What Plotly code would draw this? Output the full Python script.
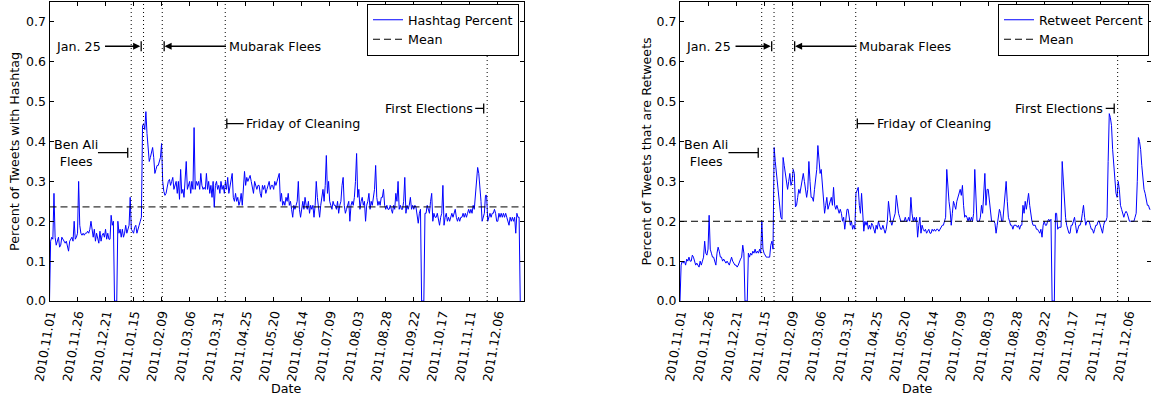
import pandas as pd
import plotly.graph_objects as go

# ---------------- data ----------------
start_date = "2010-11-01"

hashtag_percent = [
    0.0, 0.15, 0.16, 0.155, 0.27, 0.16, 0.14, 0.15, 0.16, 0.135,
    0.14, 0.16, 0.155, 0.15, 0.145, 0.15, 0.14, 0.125, 0.15, 0.155,
    0.16, 0.15, 0.2, 0.155, 0.16, 0.17, 0.30, 0.19, 0.17, 0.165,
    0.17, 0.165, 0.17, 0.17, 0.175, 0.17, 0.18, 0.2, 0.175, 0.16,
    0.18, 0.15, 0.17, 0.16, 0.145, 0.175, 0.15, 0.165, 0.17, 0.16,
    0.18, 0.155, 0.17, 0.155, 0.155, 0.215, 0.19, 0.2, 0.0, 0.0,
    0.0, 0.2, 0.17, 0.18, 0.16, 0.18, 0.16, 0.17, 0.19, 0.17,
    0.18, 0.19, 0.26, 0.18, 0.175, 0.17, 0.185, 0.19, 0.17, 0.185,
    0.19, 0.2, 0.21, 0.44, 0.445, 0.43, 0.475, 0.42, 0.38, 0.35,
    0.36, 0.37, 0.385, 0.36, 0.32, 0.33, 0.34, 0.34, 0.35, 0.36,
    0.395, 0.3, 0.275, 0.265, 0.27, 0.29, 0.3, 0.305, 0.29, 0.3,
    0.31, 0.28, 0.29, 0.3, 0.27, 0.3, 0.255, 0.33, 0.27, 0.28,
    0.26, 0.3, 0.35, 0.28, 0.29, 0.3, 0.27, 0.3, 0.28, 0.435,
    0.28, 0.3, 0.29, 0.3, 0.28, 0.32, 0.29, 0.28, 0.285, 0.28,
    0.32, 0.28, 0.3, 0.27, 0.29, 0.26, 0.3, 0.235, 0.29, 0.3,
    0.28, 0.29, 0.27, 0.3, 0.28, 0.29, 0.27, 0.3, 0.28, 0.31,
    0.27, 0.29, 0.3, 0.32, 0.26, 0.25, 0.27, 0.25, 0.26, 0.24,
    0.25, 0.27, 0.24, 0.28, 0.325, 0.29, 0.31, 0.3, 0.31, 0.315,
    0.3, 0.28, 0.27, 0.3, 0.29, 0.28, 0.29, 0.29, 0.27, 0.26,
    0.29, 0.28, 0.29, 0.27, 0.28, 0.29, 0.3, 0.28, 0.29, 0.29,
    0.28, 0.3, 0.29, 0.3, 0.31, 0.32, 0.25, 0.27, 0.24, 0.25,
    0.24, 0.26, 0.25, 0.27, 0.24, 0.25, 0.23, 0.21, 0.24, 0.23,
    0.24, 0.25, 0.30, 0.23, 0.21, 0.24, 0.25, 0.23, 0.26, 0.24,
    0.23, 0.25, 0.22, 0.24, 0.23, 0.24, 0.21, 0.24, 0.30, 0.26,
    0.23, 0.21, 0.24, 0.26, 0.28, 0.25, 0.29, 0.365, 0.27, 0.3,
    0.25, 0.24, 0.23, 0.25, 0.24, 0.24, 0.23, 0.25, 0.22, 0.24,
    0.25, 0.29, 0.31, 0.24, 0.22, 0.23, 0.24, 0.25, 0.2, 0.24,
    0.25, 0.24, 0.26, 0.30, 0.37, 0.26, 0.28, 0.23, 0.25, 0.26,
    0.24, 0.25, 0.2, 0.24, 0.25, 0.27, 0.23, 0.25, 0.24, 0.26,
    0.28, 0.34, 0.26, 0.24, 0.25, 0.24, 0.26, 0.26, 0.28, 0.24,
    0.23, 0.24, 0.23, 0.23, 0.24, 0.23, 0.22, 0.24, 0.23, 0.27,
    0.25, 0.3, 0.23, 0.24, 0.23, 0.23, 0.25, 0.31, 0.22, 0.24,
    0.23, 0.24, 0.26, 0.23, 0.24, 0.23, 0.24, 0.235, 0.22, 0.195,
    0.22, 0.23, 0.0, 0.0, 0.0, 0.22, 0.22, 0.24, 0.23, 0.22,
    0.25, 0.27, 0.2, 0.22, 0.21, 0.21, 0.22, 0.2, 0.19, 0.21,
    0.22, 0.29, 0.19, 0.21, 0.22, 0.2, 0.21, 0.2, 0.21, 0.22,
    0.21, 0.22, 0.23, 0.21, 0.2, 0.21, 0.2, 0.21, 0.21, 0.22,
    0.21, 0.22, 0.21, 0.22, 0.23, 0.22, 0.23, 0.22, 0.24, 0.23,
    0.26, 0.30, 0.335, 0.32, 0.29, 0.25, 0.2, 0.21, 0.22, 0.265,
    0.265, 0.2, 0.21, 0.22, 0.21, 0.22, 0.22, 0.23, 0.22, 0.2,
    0.2, 0.22, 0.21, 0.22, 0.21, 0.22, 0.21, 0.22, 0.21, 0.2,
    0.19, 0.21, 0.2, 0.21, 0.2, 0.21, 0.17, 0.22, 0.21, 0.21, 0.0,
]

retweet_percent = [
    0.0, 0.09, 0.1, 0.095, 0.1, 0.09, 0.105, 0.1, 0.11, 0.1,
    0.1, 0.115, 0.11, 0.1, 0.09, 0.095, 0.09, 0.085, 0.1, 0.09,
    0.1, 0.11, 0.15, 0.12, 0.115, 0.13, 0.215, 0.13, 0.12, 0.11,
    0.11, 0.1, 0.09, 0.12, 0.135, 0.125, 0.11, 0.11, 0.1, 0.105,
    0.1, 0.095, 0.1, 0.095, 0.09, 0.1, 0.11, 0.1, 0.095, 0.09,
    0.09, 0.085, 0.09, 0.1, 0.105, 0.11, 0.14, 0.12, 0.0, 0.0,
    0.0, 0.12, 0.11, 0.12, 0.115, 0.125, 0.12, 0.13, 0.12, 0.125,
    0.12, 0.13, 0.12, 0.2, 0.13, 0.12, 0.115, 0.11, 0.11, 0.11,
    0.11, 0.14, 0.15, 0.13, 0.385, 0.35, 0.32, 0.28, 0.25, 0.22,
    0.21, 0.205, 0.36, 0.34, 0.32, 0.3, 0.28, 0.3, 0.32, 0.29,
    0.3, 0.33, 0.32, 0.236, 0.24, 0.26, 0.28, 0.27, 0.29, 0.3,
    0.32, 0.3, 0.28, 0.26, 0.28, 0.35, 0.3, 0.26, 0.26, 0.25,
    0.28, 0.3, 0.33, 0.39, 0.36, 0.32, 0.33, 0.3, 0.27, 0.22,
    0.24, 0.26, 0.23, 0.24, 0.25, 0.26, 0.24, 0.285, 0.24, 0.23,
    0.24, 0.23, 0.22, 0.23, 0.22, 0.2, 0.21, 0.18, 0.2, 0.23,
    0.23, 0.2, 0.19, 0.2, 0.18, 0.19, 0.18, 0.27, 0.28, 0.285,
    0.24, 0.22, 0.27, 0.23, 0.175, 0.2, 0.19, 0.2, 0.18, 0.19,
    0.18, 0.195, 0.19, 0.18, 0.17, 0.19, 0.18, 0.2, 0.19, 0.18,
    0.18, 0.19, 0.18, 0.17, 0.18, 0.2, 0.25, 0.22, 0.2, 0.19,
    0.2, 0.21, 0.22, 0.265, 0.24, 0.22, 0.21, 0.2, 0.2, 0.2,
    0.2, 0.21, 0.2, 0.2, 0.21, 0.2, 0.26, 0.22, 0.2, 0.21,
    0.2, 0.21, 0.16, 0.19, 0.21, 0.17, 0.19, 0.18, 0.175, 0.18,
    0.17, 0.175, 0.18, 0.17, 0.17, 0.18, 0.175, 0.18, 0.175, 0.18,
    0.18, 0.175, 0.18, 0.185, 0.19, 0.19, 0.2, 0.21, 0.33, 0.28,
    0.25, 0.2275, 0.19, 0.22, 0.25, 0.24, 0.23, 0.25, 0.26, 0.267,
    0.28, 0.265, 0.29, 0.24, 0.21, 0.215, 0.21, 0.2, 0.21, 0.2,
    0.21, 0.2, 0.22, 0.33, 0.25, 0.2, 0.2, 0.2, 0.21, 0.24,
    0.22, 0.26, 0.32, 0.24, 0.28, 0.28, 0.25, 0.23, 0.2, 0.2,
    0.2, 0.195, 0.17, 0.19, 0.21, 0.23, 0.22, 0.2, 0.2, 0.24,
    0.27, 0.3, 0.25, 0.21, 0.2, 0.19, 0.19, 0.18, 0.19, 0.19,
    0.19, 0.185, 0.19, 0.18, 0.19, 0.19, 0.24, 0.22, 0.25, 0.23,
    0.25, 0.27, 0.24, 0.21, 0.2, 0.19, 0.19, 0.19, 0.18, 0.18,
    0.175, 0.17, 0.18, 0.16, 0.19, 0.2, 0.19, 0.19, 0.2, 0.205,
    0.2, 0.205, 0.0, 0.0, 0.0, 0.22, 0.22, 0.18, 0.185, 0.185,
    0.185, 0.35, 0.3, 0.25, 0.21, 0.19, 0.18, 0.17, 0.17, 0.19,
    0.19, 0.2, 0.21, 0.19, 0.17, 0.18, 0.19, 0.19, 0.2, 0.22,
    0.24, 0.21, 0.19, 0.2, 0.2, 0.2, 0.19, 0.18, 0.18, 0.17,
    0.18, 0.19, 0.19, 0.2, 0.2, 0.19, 0.18, 0.17, 0.19, 0.2,
    0.2, 0.21, 0.35, 0.47, 0.46, 0.44, 0.38, 0.34, 0.31, 0.27,
    0.26, 0.3, 0.28, 0.24, 0.23, 0.22, 0.21, 0.22, 0.225, 0.22,
    0.21, 0.2, 0.2, 0.2, 0.2, 0.2, 0.21, 0.22, 0.3, 0.41,
    0.4, 0.38, 0.34, 0.3, 0.28, 0.27, 0.25, 0.24, 0.24, 0.23, 0.23,
]

hashtag_mean = 0.236
retweet_mean = 0.200

tick_dates = ["2010-11-01", "2010-11-26", "2010-12-21", "2011-01-15", "2011-02-09",
              "2011-03-06", "2011-03-31", "2011-04-25", "2011-05-20", "2011-06-14",
              "2011-07-09", "2011-08-03", "2011-08-28", "2011-09-22", "2011-10-17",
              "2011-11-11", "2011-12-06"]
tick_labels = [d.replace("-", ".") for d in tick_dates]
y_ticks = [0.0, 0.1, 0.2, 0.3, 0.4, 0.5, 0.6, 0.7]
y_tick_labels = ["%.1f" % v for v in y_ticks]

# event marker lines (days after start_date, as placed in the picture)
event_days = [72.9, 83.9, 100.6, 156.8, 390.5]

# ---------------- helpers ----------------
t0 = pd.Timestamp(start_date)


def day(d):
    return (t0 + pd.Timedelta(days=d)).strftime("%Y-%m-%d %H:%M:%S")


W, H = 1151, 398
BLUE = "#0000ff"
FONT = "DejaVu Sans"

panels = [
    dict(xa="x", ya="y", series=hashtag_percent, name="Hashtag Percent", mean=hashtag_mean,
         ylabel="Percent of Tweets with Hashtag", legend="legend",
         px0=49.5, px1=524.3, ylab_px=14.5),
    dict(xa="x2", ya="y2", series=retweet_percent, name="Retweet Percent", mean=retweet_mean,
         ylabel="Percent of Tweets that are Retweets", legend="legend2",
         px0=680.0, px1=1150.5, ylab_px=646.0),
]
PX_PER_DAY = 1.1208
py_top, py_bot = 2.0, 301.0

fig = go.Figure()
shapes = []
annotations = []

axis_common = dict(showline=True, linecolor="black", linewidth=1, mirror="ticks",
                   ticks="inside", ticklen=4, tickwidth=1, tickcolor="black",
                   showgrid=False, zeroline=False, automargin=False,
                   tickfont=dict(family=FONT, size=12.5, color="black"))

layout_axes = {}
for i, p in enumerate(panels):
    n_days_axis = (p["px1"] - p["px0"]) / PX_PER_DAY
    dates = pd.date_range(start_date, periods=len(p["series"]), freq="D")
    fig.add_trace(go.Scatter(x=dates, y=p["series"], mode="lines", name=p["name"],
                             line=dict(color=BLUE, width=1), xaxis=p["xa"], yaxis=p["ya"],
                             legend=p["legend"]))
    fig.add_trace(go.Scatter(x=[day(0), day(n_days_axis)], y=[p["mean"], p["mean"]],
                             mode="lines", name="Mean",
                             line=dict(color="black", width=1, dash="7px,4px"),
                             xaxis=p["xa"], yaxis=p["ya"], legend=p["legend"]))
    suffix = "" if i == 0 else "2"
    layout_axes["xaxis" + suffix] = dict(
        domain=[p["px0"] / W, p["px1"] / W], anchor=p["ya"], type="date",
        range=[day(0), day(n_days_axis)], tickvals=tick_dates, ticktext=tick_labels,
        tickangle=-80, **axis_common)
    layout_axes["yaxis" + suffix] = dict(
        domain=[(H - py_bot) / H, (H - py_top) / H], anchor=p["xa"], range=[0, 0.75],
        tickvals=y_ticks, ticktext=y_tick_labels, **axis_common)

    xr, yr = p["xa"], p["ya"]
    # dotted event lines
    for d in event_days:
        shapes.append(dict(type="line", xref=xr, yref=yr + " domain", x0=day(d), x1=day(d),
                           y0=0, y1=1, line=dict(color="black", width=1, dash="1px,3px")))

    # arrows: (tail_day, head_day, y, filled head?, bar_day)
    arrows = [
        (48.2, 81.0, 0.639, True, 81.8),     # Jan. 25
        (158.8, 102.6, 0.639, True, 102.3),  # Mubarak Flees
        (41.9, 69.8, 0.372, False, 69.8),    # Ben Ali Flees
        (174.6, 158.2, 0.445, False, 158.2), # Friday of Cleaning
        (378.5, 387.4, 0.483, False, 387.4), # First Elections
    ]
    for tail, head, yv, filled, bar in arrows:
        annotations.append(dict(xref=xr, yref=yr, axref=xr, ayref=yr,
                                x=day(head), y=yv, ax=day(tail), ay=yv, text="",
                                showarrow=True, arrowhead=2 if filled else 0,
                                arrowsize=1.1, arrowwidth=1.3, arrowcolor="black",
                                standoff=0, startstandoff=0))
        shapes.append(dict(type="line", xref=xr, yref=yr, x0=day(bar), x1=day(bar),
                           y0=yv - 0.0125, y1=yv + 0.0125,
                           line=dict(color="black", width=1.3)))

    # event labels: (text, day, y, xanchor)
    labels = [
        ("Jan. 25", 46.6, 0.639, "right"),
        ("Mubarak Flees", 159.2, 0.639, "left"),
        ("Ben Ali<br>Flees", 23.2, 0.372, "center"),
        ("Friday of Cleaning", 174.8, 0.445, "left"),
        ("First Elections", 378.6, 0.483, "right"),
    ]
    for txt, d, yv, anc in labels:
        annotations.append(dict(xref=xr, yref=yr, x=day(d), y=yv, text=txt, showarrow=False,
                                xanchor=anc, yanchor="middle", align="center",
                                font=dict(family=FONT, size=12.7, color="black"),
                                borderpad=0))

    # axis titles
    annotations.append(dict(xref="paper", yref="paper", x=p["ylab_px"] / W,
                            y=(H - (py_top + py_bot) / 2) / H, text=p["ylabel"],
                            textangle=-90, showarrow=False, xanchor="center", yanchor="middle",
                            font=dict(family=FONT, size=12.7, color="black")))
    annotations.append(dict(xref="paper", yref="paper",
                            x=((p["px0"] + p["px0"] + 474.3) / 2) / W,
                            y=(H - 388) / H, text="Date", showarrow=False,
                            xanchor="center", yanchor="middle",
                            font=dict(family=FONT, size=12.7, color="black")))

legend_common = dict(yanchor="top", y=(H - 4) / H, xanchor="right", bgcolor="white",
                     bordercolor="black", borderwidth=1, itemwidth=30,
                     font=dict(family=FONT, size=12.7, color="black"))

fig.update_layout(
    width=W, height=H, autosize=False, margin=dict(l=0, r=0, t=0, b=0, pad=0),
    paper_bgcolor="white", plot_bgcolor="white", template="none",
    font=dict(family=FONT, size=12, color="black"),
    showlegend=True,
    legend=dict(x=519 / W, **legend_common),
    legend2=dict(x=1149 / W, **legend_common),
    shapes=shapes, annotations=annotations,
    **layout_axes,
)

fig.write_html("out.html")
